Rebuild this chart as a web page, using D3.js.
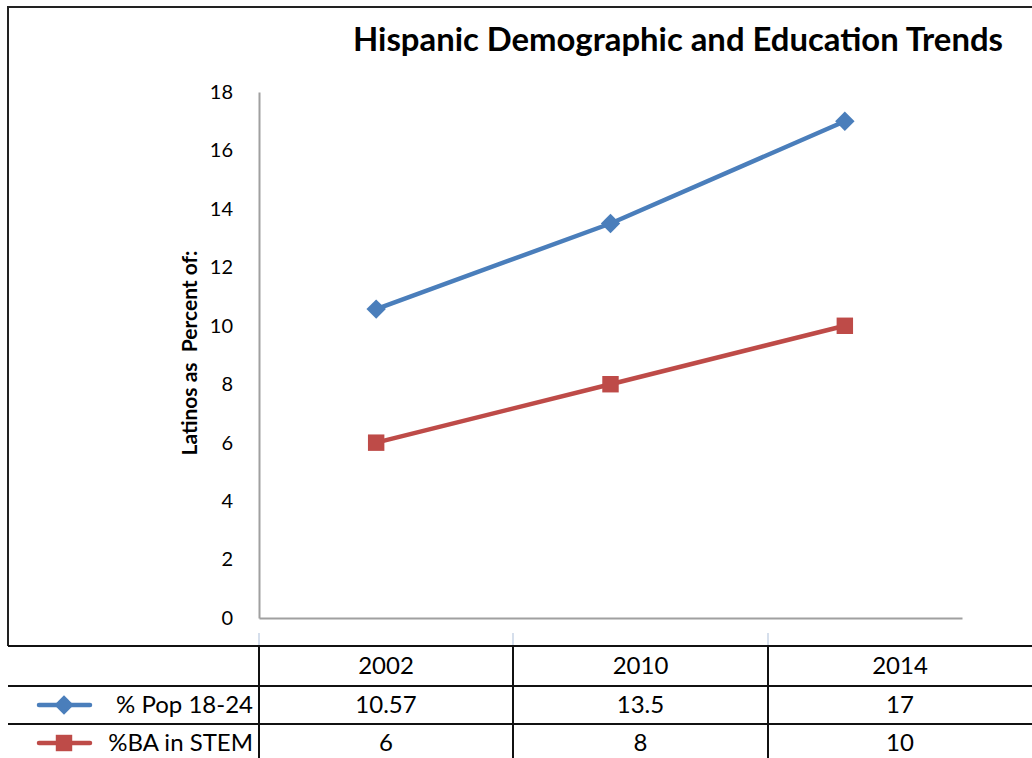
<!DOCTYPE html>
<html>
<head>
<meta charset="utf-8">
<script src="https://cdn.jsdelivr.net/npm/d3@7"></script>
<style>
  html, body { margin: 0; padding: 0; background: #fff; }
  svg { display: block; }
  text { font-family: Lato, "Open Sans", sans-serif; }
</style>
</head>
<body>
<svg id="chart" width="1032" height="758"></svg>
<script>
// Chart data
const years = ["2002", "2010", "2014"];
const popShare = [10.57, 13.5, 17];
const stemShare = [6, 8, 10];
const seriesNames = ["% Pop 18-24", "%BA in STEM"];
const yTicks = [0, 2, 4, 6, 8, 10, 12, 14, 16, 18];

const series = [
  { name: seriesNames[0], values: popShare, color: "#4a7ebb", marker: "diamond" },
  { name: seriesNames[1], values: stemShare, color: "#be4b48", marker: "square" }
];

const svg = d3.select("#chart");

// Frame
svg.append("path")
  .attr("d", "M8,646 L8,7 L1032,7")
  .attr("fill", "none").attr("stroke", "#222").attr("stroke-width", 2);

// Title
svg.append("text")
  .attr("x", 678).attr("y", 51)
  .attr("text-anchor", "middle")
  .attr("font-size", 32).attr("font-weight", 700)
  .attr("fill", "#000")
  .attr("textLength", 650)
  .attr("lengthAdjust", "spacingAndGlyphs")
  .text("Hispanic Demographic and Education Trends");

// Scales
const plotLeft = 259, plotRight = 962, plotTop = 92, plotBottom = 618;
const x = d3.scaleBand().domain(years).range([plotLeft, plotRight]);
const y = d3.scaleLinear().domain([0, 18]).range([plotBottom, plotTop]);

// Y axis
const yAxis = svg.append("g")
  .attr("transform", `translate(${plotLeft},0)`)
  .call(d3.axisLeft(y).tickValues(yTicks).tickSize(0).tickPadding(26));
yAxis.select(".domain").attr("stroke", "#a0a0a0").attr("stroke-width", 2);
yAxis.selectAll("text").attr("font-size", 20).attr("fill", "#000")
  .attr("font-family", "Lato, sans-serif");

// X axis baseline
const xAxis = svg.append("g")
  .attr("transform", `translate(0,${plotBottom})`)
  .call(d3.axisBottom(x).tickSize(0).tickFormat(""));
xAxis.select(".domain").attr("stroke", "#a0a0a0").attr("stroke-width", 2);

// Y axis title
svg.append("text")
  .attr("transform", "translate(197,353) rotate(-90)")
  .attr("text-anchor", "middle")
  .attr("font-size", 21).attr("font-weight", 700)
  .attr("fill", "#000")
  .attr("xml:space", "preserve")
  .text("Latinos as  Percent of:");

// Marker shapes
const markerPath = {
  diamond: d3.symbol().type(d3.symbolDiamond2).size(240)(),
  square: d3.symbol().type(d3.symbolSquare).size(270)()
};

const line = d3.line()
  .x((d, i) => x(years[i]) + x.bandwidth() / 2)
  .y(d => y(d));

series.forEach(s => {
  svg.append("path")
    .datum(s.values)
    .attr("d", line)
    .attr("fill", "none")
    .attr("stroke", s.color)
    .attr("stroke-width", 4.5)
    .attr("stroke-linejoin", "round");
  svg.selectAll(null)
    .data(s.values)
    .join("path")
    .attr("d", markerPath[s.marker])
    .attr("transform", (d, i) => `translate(${x(years[i]) + x.bandwidth() / 2},${y(d)})`)
    .attr("fill", s.color);
});

// Data table
const colEdges = [259, 513, 768, 1032];
const rowEdges = [646, 686, 724, 762];
const table = svg.append("g");

// faint column guides above the table
colEdges.slice(0, 3).forEach(cx => {
  table.append("line")
    .attr("x1", cx).attr("x2", cx).attr("y1", 633).attr("y2", 646)
    .attr("stroke", "#c8d4e6").attr("stroke-width", 1.5);
});

rowEdges.forEach(ry => {
  table.append("line")
    .attr("x1", 8).attr("x2", 1032).attr("y1", ry).attr("y2", ry)
    .attr("stroke", "#111").attr("stroke-width", 2);
});
colEdges.slice(0, 3).forEach(cx => {
  table.append("line")
    .attr("x1", cx).attr("x2", cx).attr("y1", rowEdges[0]).attr("y2", 758)
    .attr("stroke", "#111").attr("stroke-width", 2);
});

const rowMid = i => (rowEdges[i] + rowEdges[i + 1]) / 2;
const cellFont = 24;

// header row
years.forEach((yr, j) => {
  table.append("text")
    .attr("x", (colEdges[j] + colEdges[j + 1]) / 2)
    .attr("y", rowMid(0) + 8)
    .attr("text-anchor", "middle")
    .attr("font-size", cellFont).attr("fill", "#000")
    .text(yr);
});

// value rows with legend keys
series.forEach((s, i) => {
  const cy = rowMid(i + 1);
  s.values.forEach((v, j) => {
    table.append("text")
      .attr("x", (colEdges[j] + colEdges[j + 1]) / 2)
      .attr("y", cy + 8)
      .attr("text-anchor", "middle")
      .attr("font-size", cellFont).attr("fill", "#000")
      .text(v);
  });
  table.append("text")
    .attr("x", 253).attr("y", cy + 8)
    .attr("text-anchor", "end")
    .attr("font-size", cellFont).attr("fill", "#000")
    .text(s.name);
  table.append("line")
    .attr("x1", 39).attr("x2", 90).attr("y1", cy).attr("y2", cy)
    .attr("stroke", s.color).attr("stroke-width", 4.5).attr("stroke-linecap", "round");
  table.append("path")
    .attr("d", markerPath[s.marker])
    .attr("transform", `translate(64,${cy})`)
    .attr("fill", s.color);
});
</script>
</body>
</html>
